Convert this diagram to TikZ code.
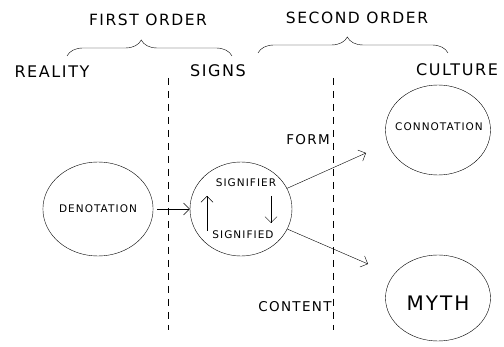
\documentclass[tikz,border=0pt]{standalone}
\usepackage{fontspec}
\setmainfont{DejaVu Sans}[LetterSpace=10]
\usepackage{tikz}
\usetikzlibrary{shapes.geometric, arrows.meta, positioning, decorations.pathreplacing}

\begin{document}
\begin{tikzpicture}[
    x=1pt, y=-1pt,
    circ/.style   = {ellipse, draw, thin, inner sep=0pt},
    head/.style   = {font=\fontsize{15.5}{15.5}\selectfont, inner sep=0pt},
    lbl/.style    = {font=\fontsize{16}{16}\selectfont, inner sep=0pt},
    mid/.style    = {font=\fontsize{13.5}{13.5}\selectfont, inner sep=0pt},
    small/.style  = {font=\fontsize{10.5}{10.5}\selectfont, inner sep=0pt},
    arr/.style    = {-{Straight Barb[length=6pt, width=12pt]}, thin},
    brc/.style    = {decorate, thin,
                     decoration={brace, amplitude=16pt}},
    sep/.style    = {dash pattern=on 7pt off 6pt, thin}
]
  \useasboundingbox (0,0) rectangle (504,347);

  % headings
  \node[head] (first)  at (148,20) {FIRST ORDER};
  \node[head] (second) at (357,18) {SECOND ORDER};
  \node[lbl] (real)   at (52,72)  {REALITY};
  \node[lbl] (signs)  at (218,71) {SIGNS};
  \node[lbl] (cult)   at (457,70) {CULTURE};

  \draw[brc, decoration={aspect=0.45}] (67,56) -- (232,56);
  \draw[brc, decoration={aspect=0.47}] (258,53) -- (448,53);

  % dividers
  \coordinate (d1top) at (168,78);
  \coordinate (d1bot) at (168,330);
  \coordinate (d2top) at (333,78);
  \coordinate (d2bot) at (333,330);
  \draw[sep] (d1top) -- (d1bot);
  \draw[sep] (d2top) -- (d2bot);

  % circles
  \node[circ, minimum width=104pt, minimum height=94pt, small] (deno) at (98,209) {DENOTATION};
  \node[circ, minimum width=102pt, minimum height=94pt] (sign) at (241,209) {};
  \node[circ, minimum width=105pt, minimum height=90pt] (conno) at (438,130) {};
  \node[small] (connot) at (439,127) {CONNOTATION};
  \node[circ, minimum width=105pt, minimum height=86pt] (myth) at (438,298) {};
  \node[font=\fontsize{20}{20}\selectfont, inner sep=0pt] (mytht) at (438,303) {MYTH};

  \node[small] (sfier) at (246,183) {SIGNIFIER};
  \node[small] (sfied) at (243,235) {SIGNIFIED};

  \node[mid] (form) at (308,140) {FORM};
  \node[mid] (cont) at (295,307) {CONTENT};

  % arrows
  \coordinate (upa)   at (207,231);
  \coordinate (upb)   at (207,196);
  \coordinate (dna)   at (271,196);
  \coordinate (dnb)   at (271,223);
  \coordinate (formtip) at (366,153);
  \coordinate (conttip) at (368,264);

  \draw[arr, shorten <=4pt] (deno) -- (sign);
  \draw[arr] (upa) -- (upb);
  \draw[arr] (dna) -- (dnb);
  \draw[arr] (sign) -- (formtip);
  \draw[arr] (sign) -- (conttip);
\end{tikzpicture}
\end{document}
